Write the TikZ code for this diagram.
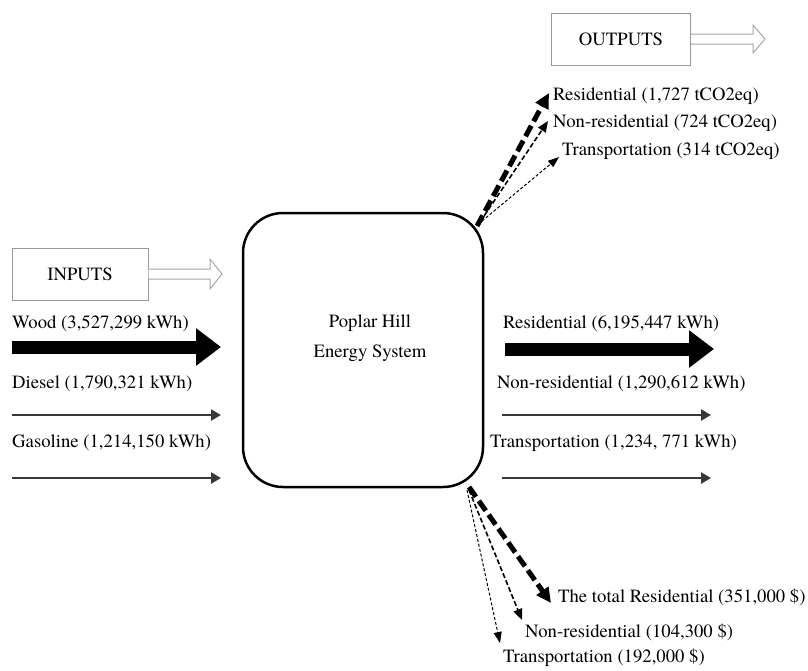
\documentclass[tikz,border=0pt]{standalone}
\usepackage{fontspec}
\setmainfont{texgyretermes}[Extension=.otf,UprightFont=*-regular,BoldFont=*-bold]
\usetikzlibrary{arrows.meta}
\begin{document}
\begin{tikzpicture}[x=1pt,y=-1pt,
  every node/.style={inner sep=0pt,font=\fontsize{18.7}{22}\selectfont},
  lbl/.style={anchor=base west},
  tagbox/.style={draw=black!40,line width=1pt,minimum width=136pt,minimum height=52pt,anchor=center},
  hollow/.style={draw=black!35,fill=white,line width=1pt,line join=miter},
  system/.style={draw=black,line width=2.5pt,rounded corners=40pt},
  bigflow/.style={line width=13pt,-{Triangle[length=25pt,width=36pt]}},
  thinflow/.style={draw=black!78,line width=2.8pt,-{Triangle[length=10pt,width=11pt]}},
  dashA/.style={line width=5pt,dash pattern=on 12pt off 5pt,-{Triangle[length=15pt,width=14pt]}},
  dashB/.style={line width=1.6pt,dash pattern=on 5pt off 2.5pt,-{Triangle[length=11pt,width=9pt]}},
  dashC/.style={line width=1pt,dash pattern=on 3pt off 2pt,-{Triangle[length=11pt,width=8pt]}}
]
\useasboundingbox (0,0) rectangle (808,670);

% central system block
\draw[system] (243,213) rectangle (483,487);
\node (sys) [align=center] at (370,338) {Poplar Hill\\[8pt]Energy System};

% inputs header with hollow arrow
\node[tagbox] (inputs) at (80,274) {INPUTS};
\draw[hollow] (inputs.east |- 0,269) -- (210,269) -- (210,259) -- (222,274)
  -- (210,289) -- (210,279) -- (inputs.east |- 0,279);

% outputs header with hollow arrow
\node[tagbox,minimum width=139pt] (outputs) at (621,39) {OUTPUTS};
\draw[hollow] (outputs.east |- 0,34) -- (753,34) -- (753,25) -- (765,39)
  -- (753,53) -- (753,44) -- (outputs.east |- 0,44);

% input flows
\node[lbl] (wood) at (12,328) {Wood (3,527,299 kWh)};
\node[lbl] (diesel) at (12,388) {Diesel (1,790,321 kWh)};
\node[lbl] (gas) at (12,447) {Gasoline (1,214,150 kWh)};
\coordinate (woodA) at (12,347);   \coordinate (woodB) at (221,347);
\coordinate (dieselA) at (12,415); \coordinate (dieselB) at (221,415);
\coordinate (gasA) at (12,478);    \coordinate (gasB) at (221,478);
\draw[bigflow] (woodA) -- (woodB);
\draw[thinflow] (dieselA) -- (dieselB);
\draw[thinflow] (gasA) -- (gasB);

% energy outputs
\node[lbl] (eres) at (503,328) {Residential (6,195,447 kWh)};
\node[lbl] (enon) at (497,388) {Non-residential (1,290,612 kWh)};
\node[lbl] (etra) at (490,447) {Transportation (1,234, 771 kWh)};
\coordinate (eresA) at (505,349); \coordinate (eresB) at (714,349);
\coordinate (enonA) at (502,415); \coordinate (enonB) at (711,415);
\coordinate (etraA) at (502,478); \coordinate (etraB) at (711,478);
\draw[bigflow] (eresA) -- (eresB);
\draw[thinflow] (enonA) -- (enonB);
\draw[thinflow] (etraA) -- (etraB);

% emissions
\node[lbl] (cres) at (553,100) {Residential (1,727 tCO2eq)};
\node[lbl] (cnon) at (553,127) {Non-residential (724 tCO2eq)};
\node[lbl] (ctra) at (562,155) {Transportation (314 tCO2eq)};
\coordinate (cA) at (477,226);
\coordinate (cB) at (480,222);
\coordinate (cC) at (482,221);
\coordinate (cresT) at (549,93);
\coordinate (cnonT) at (548,121);
\coordinate (ctraT) at (559,157);
\draw[dashA] (cA) -- (cresT);
\draw[dashB] (cB) -- (cnonT);
\draw[dashC] (cC) -- (ctraT);

% costs
\node[lbl] (mres) at (558,602) {The total Residential (351,000 \$)};
\node[lbl] (mnon) at (525,637) {Non-residential (104,300 \$)};
\node[lbl] (mtra) at (503,662) {Transportation (192,000 \$)};
\coordinate (mA) at (469,487);
\coordinate (mB) at (469,490);
\coordinate (mC) at (467,490);
\coordinate (mresT) at (551,603);
\coordinate (mnonT) at (522,620);
\coordinate (mtraT) at (500,643);
\draw[dashA] (mA) -- (mresT);
\draw[dashB] (mB) -- (mnonT);
\draw[dashC] (mC) -- (mtraT);
\end{tikzpicture}
\end{document}
